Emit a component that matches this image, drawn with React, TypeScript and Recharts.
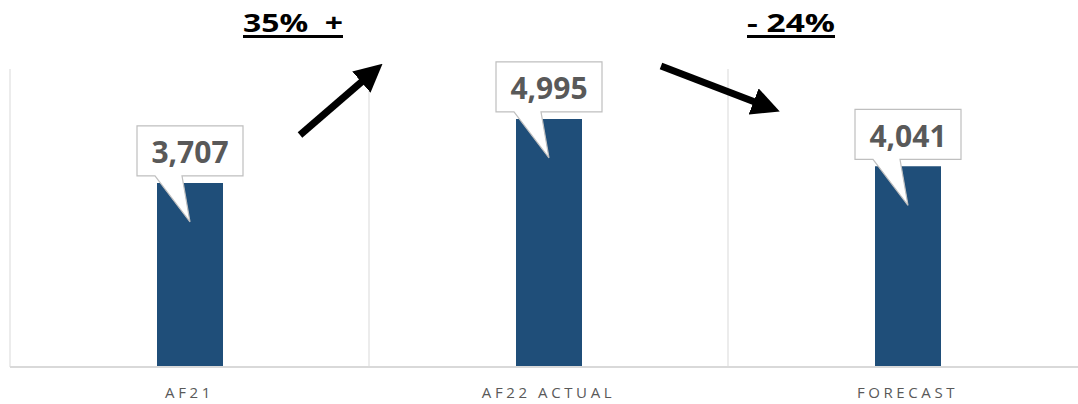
import React from "react";
import { BarChart, Bar, XAxis, YAxis, CartesianGrid, LabelList } from "recharts";

const categories = ["AF21", "AF22 ACTUAL", "FORECAST"];
const values = [3707, 4995, 4041];
const changeLabels = ["35%  +", "- 24%"];

const data = categories.map((name, i) => ({ name, value: values[i] }));

const FONT = "'Open Sans', 'Noto Sans', sans-serif";

const Callout = (props: any) => {
  const { x, y, width, value } = props;
  const cx = x + width / 2;
  const bw = 106;
  const bh = 50;
  const bottom = y - 7;
  const top = bottom - bh;
  const left = cx - bw / 2;
  const right = cx + bw / 2;
  const d = `M${left},${top} H${right} V${bottom} H${cx - 8} L${cx},${y + 39} L${cx - 35},${bottom} H${left} Z`;
  return (
    <g>
      <path d={d} fill="#ffffff" stroke="#bfbfbf" strokeWidth={1.2} strokeLinejoin="miter" />
      <text
        x={cx}
        y={top + bh / 2 + 1}
        textAnchor="middle"
        dominantBaseline="central"
        fontFamily={FONT}
        fontWeight={700}
        fontSize={30}
        fill="#595959"
      >
        {Number(value).toLocaleString("en-US")}
      </text>
    </g>
  );
};

const gridGen = ({ offset }: any) => {
  const band = offset.width / categories.length;
  return [0, 1, 2, 3].map((i) => offset.left + i * band);
};

export default function App() {
  return (
    <div style={{ position: "absolute", left: 0, top: 0, width: 1078, height: 404, overflow: "hidden", background: "#fff" }}>
      <BarChart
        width={1087}
        height={404}
        data={data}
        margin={{ top: 69, right: 0, left: 10, bottom: 0 }}
      >
        <CartesianGrid vertical horizontal={false} stroke="#d9d9d9" verticalCoordinatesGenerator={gridGen} />
        <XAxis
          dataKey="name"
          height={37}
          axisLine={{ stroke: "#d9d9d9", strokeWidth: 2 }}
          tickLine={false}
          tickMargin={14}
          tick={{ fill: "#595959", fontSize: 15, fontFamily: FONT, letterSpacing: 3.6 }}
        />
        <YAxis hide domain={[0, 6000]} />
        <Bar dataKey="value" fill="#1f4e79" barSize={66} isAnimationActive={false}>
          <LabelList dataKey="value" content={Callout} />
        </Bar>
      </BarChart>
      <svg width={1078} height={404} style={{ position: "absolute", left: 0, top: 0, pointerEvents: "none" }}>
        <defs>
          <marker id="ah" markerWidth="4" markerHeight="4" refX="2.2" refY="2" orient="auto" markerUnits="strokeWidth">
            <path d="M0,0 L4,2 L0,4 Z" fill="#000" />
          </marker>
        </defs>
        <line x1={300} y1={135} x2={373} y2={72} stroke="#000" strokeWidth={7} markerEnd="url(#ah)" />
        <line x1={661} y1={66} x2={768} y2={107} stroke="#000" strokeWidth={7} markerEnd="url(#ah)" />
        <text x={243} y={32} fontFamily={FONT} fontWeight={700} fontSize={25} fill="#000" textLength={100} lengthAdjust="spacingAndGlyphs" style={{ whiteSpace: "pre" }}>
          {changeLabels[0]}
        </text>
        <rect x={243} y={35} width={100} height={3} fill="#000" />
        <text x={747} y={32} fontFamily={FONT} fontWeight={700} fontSize={25} fill="#000" textLength={88} lengthAdjust="spacingAndGlyphs" style={{ whiteSpace: "pre" }}>
          {changeLabels[1]}
        </text>
        <rect x={747} y={35} width={88} height={3} fill="#000" />
      </svg>
    </div>
  );
}
